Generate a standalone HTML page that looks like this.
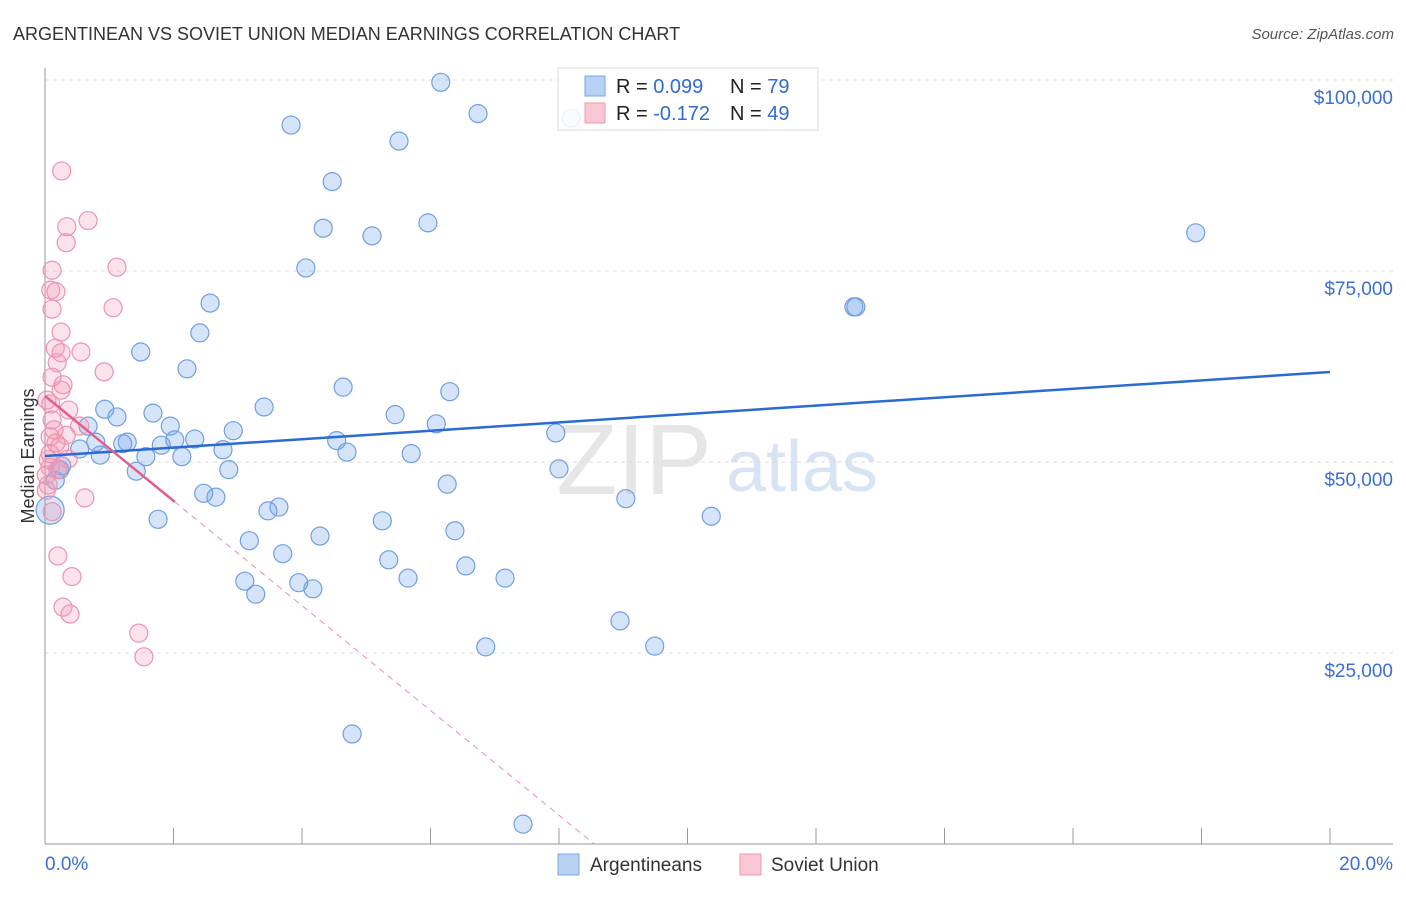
<!DOCTYPE html>
<html><head><meta charset="utf-8"><style>
body{margin:0;background:#fff;font-family:"Liberation Sans",sans-serif}
svg text{font-family:"Liberation Sans",sans-serif}
</style></head><body>
<svg id="chart" width="1406" height="892" viewBox="0 0 1406 892" xmlns="http://www.w3.org/2000/svg">
<text x="13" y="40" font-size="18" fill="#333">ARGENTINEAN VS SOVIET UNION MEDIAN EARNINGS CORRELATION CHART</text>
<text x="1394" y="39" font-size="15" fill="#555" text-anchor="end" font-style="italic">Source: ZipAtlas.com</text>
<g>
<text x="634" y="494" font-size="100" fill="#e6e6e6" text-anchor="middle" font-family="Liberation Serif, serif">ZIP</text>
<text x="802" y="491" font-size="72" fill="#d8e4f4" text-anchor="middle">atlas</text>
</g>
<g id="grid"></g>
<g id="axes"></g>
<g id="pts"></g>
<g id="trends"></g>
<g>
<rect x="558" y="68" width="260" height="62" fill="#fff" fill-opacity="0.85" stroke="#ddd"/>
<rect x="585" y="76" width="20" height="20" fill="#b8d2f5" stroke="#7aa6e6"/>
<rect x="585" y="103" width="20" height="20" fill="#f9c6d4" stroke="#ef9ab4"/>
<text x="616" y="93" font-size="20" fill="#222">R = <tspan fill="#2f6bd0">0.099</tspan></text>
<text x="730" y="93" font-size="20" fill="#222">N = <tspan fill="#2f6bd0">79</tspan></text>
<text x="616" y="120" font-size="20" fill="#222">R = <tspan fill="#2f6bd0">-0.172</tspan></text>
<text x="730" y="120" font-size="20" fill="#222">N = <tspan fill="#2f6bd0">49</tspan></text>
</g>
<text transform="translate(34,456) rotate(-90)" font-size="18" fill="#333" text-anchor="middle">Median Earnings</text>
<g>
<rect x="558" y="854" width="21" height="21" fill="#b8d2f5" stroke="#7aa6e6"/>
<text x="590" y="871" font-size="19" fill="#333">Argentineans</text>
<rect x="740" y="854" width="21" height="21" fill="#f9c6d4" stroke="#ef9ab4"/>
<text x="771" y="871" font-size="19" fill="#333">Soviet Union</text>
</g>
</svg>
<script>
const yTicks=[25000,50000,75000,100000];
const yTickLabels=["$25,000","$50,000","$75,000","$100,000"];
const xTickLabels=["0.0%","20.0%"];
const blueX=[6.16,3.83,6.74,5.51,8.19,4.47,4.33,5.09,5.96,4.06,17.91,12.59,12.62,2.57,2.41,1.49,2.21,4.64,6.30,3.41,5.45,6.09,7.95,1.68,0.93,1.12,0.67,1.95,2.93,4.54,4.70,5.70,2.33,2.02,1.81,1.28,1.21,0.79,0.54,0.86,1.57,2.13,2.77,2.86,1.42,8.00,6.26,2.47,2.66,3.64,3.47,9.04,10.37,1.76,5.25,4.28,6.38,3.18,3.70,5.35,6.55,5.65,7.16,3.11,3.95,4.17,3.28,8.95,9.49,6.86,4.78,7.44,0.23,0.26,0.08,0.16];
const blueY=[99.7,94.1,95.6,92.0,95.0,86.7,80.6,79.6,81.3,75.4,80.0,70.3,70.3,70.8,66.9,64.4,62.2,59.8,59.2,57.2,56.2,55.0,53.8,56.4,56.9,55.9,54.7,54.7,54.1,52.8,51.3,51.1,53.0,52.9,52.2,52.6,52.4,52.6,51.7,50.9,50.7,50.7,51.6,49.0,48.8,49.1,47.1,45.9,45.4,44.1,43.6,45.2,42.9,42.5,42.3,40.3,41.0,39.7,38.0,37.2,36.4,34.8,34.8,34.4,34.2,33.4,32.7,29.2,25.9,25.8,14.4,2.6,49.0,49.5,43.7,47.6];
const pinkX=[0.26,0.67,0.34,0.33,0.11,1.12,0.09,0.17,1.06,0.11,0.25,0.16,0.25,0.56,0.19,0.92,0.11,0.28,0.25,0.03,0.09,0.37,0.11,0.14,0.33,0.23,0.54,0.08,0.17,0.36,0.08,0.20,0.05,0.62,0.11,0.20,0.42,0.28,0.39,1.46,1.54,0.05,0.08,0.02,0.02];
const pinkY=[88.1,81.6,80.8,78.7,75.1,75.5,72.5,72.3,70.2,70.0,67.0,64.9,64.3,64.4,63.0,61.8,61.1,60.1,59.4,58.1,57.6,56.8,55.5,54.2,53.5,52.0,54.7,53.3,52.5,50.4,49.3,49.0,47.0,45.3,43.5,37.7,35.0,31.0,30.1,27.6,24.5,50.3,51.1,48.3,46.3];
const blueTrend=[50785,61780];
const pinkTrend=[58640,-6860];
const NS="http://www.w3.org/2000/svg";
const xS=v=>45+v/20*1285;
const yS=v=>844-v/25000*191;
function mk(tag,attrs,parent){const e=document.createElementNS(NS,tag);for(const k in attrs)e.setAttribute(k,attrs[k]);parent.appendChild(e);return e;}
const grid=document.getElementById('grid'),axes=document.getElementById('axes'),pts=document.getElementById('pts'),tr=document.getElementById('trends');
yTicks.forEach((t,i)=>{
 const l=mk('line',{x1:45,x2:1393,y1:yS(t),y2:yS(t),stroke:'#ddd','stroke-dasharray':'4,4'},grid);
 
 
 const tx=mk('text',{x:1393,y:yS(t)+24,'font-size':19,fill:'#3a6fd0','text-anchor':'end'},grid);
 tx.textContent=yTickLabels[i];
 
 
});
const ya=mk('line',{x1:45,x2:45,y1:68,y2:844,stroke:'#999'},axes);


const xa=mk('line',{x1:45,x2:1393,y1:844,y2:844,stroke:'#999'},axes);


for(let i=0;i<=10;i++){
 const t=mk('line',{x1:xS(i*2),x2:xS(i*2),y1:828,y2:844,stroke:'#999'},axes);
 
 
}
const xl0=mk('text',{x:45,y:870,'font-size':19,fill:'#3a6fd0'},axes);xl0.textContent=xTickLabels[0];


const xl1=mk('text',{x:1393,y:870,'font-size':19,fill:'#3a6fd0','text-anchor':'end'},axes);xl1.textContent=xTickLabels[1];


blueX.forEach((x,i)=>{
 const c=mk('circle',{cx:xS(x),cy:yS(blueY[i]*1000),r:(i==74?14:9),fill:'rgba(120,165,235,0.3)',stroke:'#6f9fe2','stroke-width':1.2},pts);
 
 
});
pinkX.forEach((x,i)=>{
 const c=mk('circle',{cx:xS(x),cy:yS(pinkY[i]*1000),r:9,fill:'rgba(245,150,180,0.28)',stroke:'#ec94b0','stroke-width':1.2},pts);
 
 
});
const bl=mk('line',{x1:xS(0),y1:yS(blueTrend[0]),x2:xS(20),y2:yS(blueTrend[1]),stroke:'#2a6ad2','stroke-width':2.5},tr);


const pEnd=2.02, pZero=-pinkTrend[0]/pinkTrend[1];
const pl=mk('line',{x1:xS(0),y1:yS(pinkTrend[0]),x2:xS(pEnd),y2:yS(pinkTrend[0]+pinkTrend[1]*pEnd),stroke:'#e0608a','stroke-width':2.5},tr);


const pd=mk('line',{x1:xS(pEnd),y1:yS(pinkTrend[0]+pinkTrend[1]*pEnd),x2:xS(pZero),y2:yS(0),stroke:'#e690ac','stroke-width':1,'stroke-dasharray':'6,5'},tr);


</script>
</body></html>
